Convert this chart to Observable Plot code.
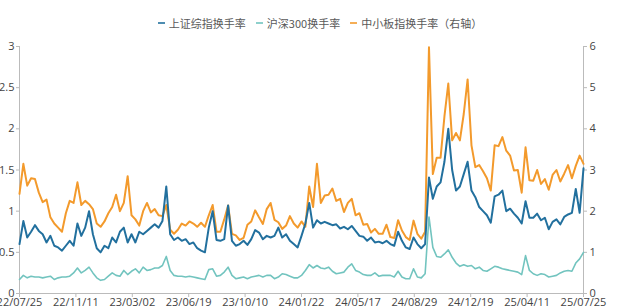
<!DOCTYPE html>
<html>
<head>
<meta charset="utf-8">
<script src="https://cdn.jsdelivr.net/npm/d3@7"></script>
<script src="https://cdn.jsdelivr.net/npm/@observablehq/plot@0.6"></script>
<style>
  html, body { margin: 0; padding: 0; background: #fff; }
  body { width: 640px; height: 308px; overflow: hidden; font-family: "Noto Sans CJK SC", "Noto Sans", sans-serif; }
  #legend { height: 36px; display: flex; justify-content: center; align-items: center; padding-top: 10px; box-sizing: border-box; font-size: 11px; color: #595959; }
  #legend .item { display: flex; align-items: center; margin: 0 5px; }
  #legend .sw { width: 7px; height: 2px; margin-right: 4px; opacity: 0.8; }
  #chart svg { display: block; }
</style>
</head>
<body>
<div id="legend"></div>
<div id="chart"></div>
<script>
// Tick labels (trading-day category axis)
const tickLabels = ["22/07/25","22/11/11","23/03/02","23/06/19","23/10/10","24/01/22","24/05/17","24/08/29","24/12/19","25/04/11","25/07/25"];
// Series names
const seriesNames = ["上证综指换手率", "沪深300换手率", "中小板指换手率（右轴）"];
// Weekly samples (week index 0..146)
const shIndex = [
0.60,0.88,0.68,0.75,0.83,0.76,0.72,0.62,0.70,0.58,
0.56,0.52,0.58,0.64,0.58,0.85,0.70,0.80,1.00,0.72,
0.55,0.50,0.58,0.55,0.68,0.62,0.75,0.80,0.62,0.72,
0.62,0.75,0.72,0.76,0.80,0.84,0.80,0.88,1.30,0.72,
0.65,0.68,0.64,0.66,0.60,0.62,0.55,0.52,0.50,0.80,
1.00,0.65,0.64,0.66,1.07,0.64,0.58,0.60,0.64,0.59,
0.66,0.77,0.74,0.66,0.70,0.68,0.70,0.80,0.68,0.72,
0.64,0.60,0.56,0.70,0.85,1.10,0.80,0.89,0.85,0.87,
0.85,0.83,0.84,0.79,0.81,0.78,0.82,0.76,0.70,0.69,
0.64,0.68,0.62,0.63,0.61,0.64,0.60,0.58,0.75,0.64,
0.56,0.54,0.68,0.60,0.55,0.60,1.41,1.15,1.30,1.35,
1.60,2.00,1.50,1.25,1.30,1.45,1.60,1.25,1.17,1.05,
1.00,0.95,0.86,1.18,1.20,1.25,1.00,1.03,0.97,0.92,
0.85,1.12,0.92,0.92,0.97,0.89,0.92,0.78,0.87,0.90,
0.84,0.93,0.96,0.98,1.27,0.98,1.52
];
const hs300 = [
0.17,0.22,0.19,0.21,0.20,0.20,0.19,0.20,0.21,0.17,
0.19,0.20,0.20,0.21,0.25,0.31,0.25,0.28,0.32,0.25,
0.19,0.16,0.17,0.21,0.25,0.22,0.21,0.28,0.23,0.27,
0.30,0.25,0.32,0.28,0.29,0.31,0.31,0.34,0.45,0.28,
0.22,0.21,0.21,0.20,0.21,0.20,0.19,0.18,0.17,0.29,
0.30,0.21,0.22,0.26,0.32,0.22,0.18,0.19,0.20,0.18,
0.20,0.21,0.22,0.20,0.22,0.22,0.18,0.20,0.24,0.23,
0.21,0.19,0.19,0.22,0.28,0.35,0.31,0.34,0.31,0.30,
0.32,0.27,0.24,0.25,0.26,0.32,0.36,0.28,0.26,0.23,
0.22,0.22,0.25,0.21,0.22,0.22,0.22,0.20,0.27,0.20,
0.18,0.18,0.30,0.20,0.19,0.24,0.93,0.56,0.45,0.44,
0.48,0.53,0.44,0.37,0.33,0.35,0.33,0.34,0.30,0.32,
0.28,0.27,0.30,0.33,0.32,0.30,0.29,0.28,0.27,0.26,
0.23,0.46,0.28,0.24,0.22,0.24,0.23,0.20,0.21,0.22,
0.25,0.27,0.28,0.27,0.37,0.42,0.50
];
const smeBoard = [
2.42,3.15,2.62,2.80,2.78,2.45,2.22,2.28,1.85,1.70,
1.60,1.50,1.95,2.25,2.20,2.70,2.15,2.25,2.17,2.05,
1.70,1.62,1.75,1.95,2.10,2.40,2.00,2.20,2.85,1.90,
1.80,1.65,2.00,2.20,1.97,2.05,1.90,1.88,2.15,1.55,
1.45,1.55,1.70,1.65,1.75,1.70,1.62,1.72,1.62,1.90,
2.15,1.50,1.50,1.80,2.14,1.45,1.41,1.30,1.35,1.67,
1.75,2.02,1.85,1.69,2.05,2.20,1.79,1.73,1.57,1.65,
1.88,1.70,1.60,1.75,1.62,2.60,2.10,3.15,2.20,2.38,
2.40,2.55,2.25,2.30,1.98,2.20,2.30,1.90,1.95,1.67,
1.69,1.48,1.57,1.45,1.45,1.67,1.37,1.35,1.78,1.53,
1.37,1.30,1.77,1.45,1.33,1.50,5.98,2.90,3.30,3.30,
4.30,5.10,3.72,3.90,3.72,4.36,5.20,3.60,3.07,3.12,
2.97,2.80,2.50,3.60,3.58,3.80,3.47,3.35,2.99,3.00,
2.45,3.55,2.75,2.74,3.00,2.66,2.78,2.52,2.88,3.00,
2.72,2.91,3.12,2.80,3.10,3.35,3.15
];

const colors = ["#22709e", "#72c4bf", "#f39a2c"];
const lastIdx = shIndex.length - 1;
const tickPos = tickLabels.map((_, i) => i * lastIdx / (tickLabels.length - 1));

const rows = [];
shIndex.forEach((v, i) => rows.push({i, v, s: seriesNames[0]}));
hs300.forEach((v, i) => rows.push({i, v, s: seriesNames[1]}));
smeBoard.forEach((v, i) => rows.push({i, v: v / 2, s: seriesNames[2]}));

// legend
const lg = document.getElementById("legend");
seriesNames.forEach((n, k) => {
  const it = document.createElement("div"); it.className = "item";
  const sw = document.createElement("span"); sw.className = "sw"; sw.style.background = colors[k];
  const tx = document.createElement("span"); tx.textContent = n;
  it.appendChild(sw); it.appendChild(tx); lg.appendChild(it);
});

const leftTicks = [0, 0.5, 1, 1.5, 2, 2.5, 3];
const chart = Plot.plot({
  width: 640,
  height: 272,
  marginTop: 10,
  marginBottom: 15,
  marginLeft: 19,
  marginRight: 57,
  style: {fontFamily: "'Open Sans', 'Noto Sans', sans-serif", fontSize: "11px", color: "#555", background: "#fff"},
  x: {domain: [0, lastIdx]},
  y: {domain: [0, 3]},
  color: {domain: seriesNames, range: colors},
  marks: [
    Plot.axisY({anchor: "left", ticks: leftTicks, tickFormat: d => String(d), tickSize: 3, tickPadding: 2, label: null, stroke: "#bbb", fill: "#444"}),
    Plot.axisY({anchor: "right", ticks: leftTicks, tickFormat: d => String(d * 2), tickSize: 3, tickPadding: 3, label: null, stroke: "#bbb", fill: "#444"}),
    Plot.ruleX([0], {stroke: "#bbb"}),
    Plot.ruleX([lastIdx], {stroke: "#bbb"}),
    Plot.ruleY([0], {stroke: "#bbb"}),
    Plot.axisX({ticks: tickPos, tickFormat: (d, k) => tickLabels[k], tickSize: 4, tickPadding: 1, label: null, stroke: "#bbb", fill: "#444"}),
    Plot.lineY(rows.filter(r => r.s === seriesNames[2]), {x: "i", y: "v", stroke: colors[2], strokeWidth: 2}),
    Plot.lineY(rows.filter(r => r.s === seriesNames[0]), {x: "i", y: "v", stroke: colors[0], strokeWidth: 2}),
    Plot.lineY(rows.filter(r => r.s === seriesNames[1]), {x: "i", y: "v", stroke: colors[1], strokeWidth: 1.6})
  ]
});
document.getElementById("chart").appendChild(chart);
</script>
</body>
</html>
